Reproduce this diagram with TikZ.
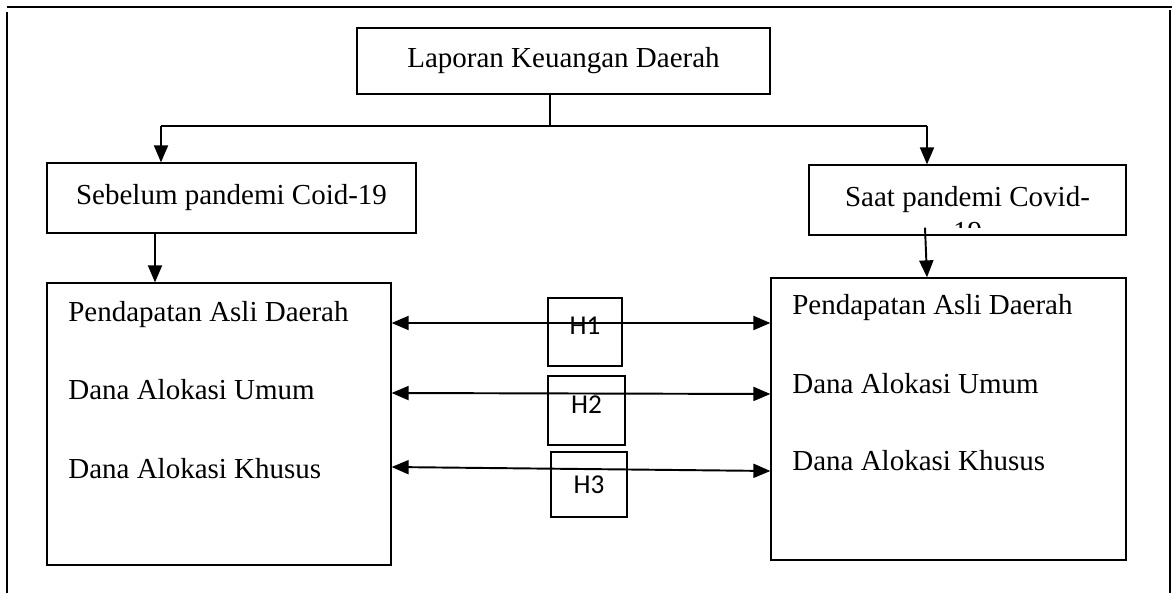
\documentclass[tikz,border=0pt]{standalone}
\usepackage{fontspec}
\setmainfont{Liberation Serif}
\newfontfamily\hfont{Carlito}
\usetikzlibrary{arrows.meta,calc}
\tikzset{
  frame/.style={line width=1.2pt},                  % page rule
  box/.style={draw=black,line width=0.7pt,inner sep=0pt,font=\fontsize{16.5}{19}\selectfont},
  hbox/.style={draw=black,line width=0.7pt,inner sep=0pt,font=\hfont\fontsize{15.5}{17}\selectfont},
  item/.style={inner sep=0pt,anchor=base west,font=\fontsize{16.5}{19}\selectfont},
  link/.style={line width=0.6pt},
  branch/.style={line width=0.9pt},
  flow/.style={-{Triangle[length=3.4mm,width=2.8mm]},line width=1.1pt},
  rel/.style={{Triangle[length=3.4mm,width=2.8mm]}-{Triangle[length=3.4mm,width=2.8mm]},line width=1.1pt},
}

\begin{document}
\begin{tikzpicture}
  \useasboundingbox (0,0) rectangle (23.44,11.86);
  % page frame
  \draw[frame] (0.14,11.72) -- (23.44,11.72);
  \draw[frame] (0.14,11.62) -- (0.14,0);
  \draw[frame] (23.40,11.66) -- (23.40,0);

  % top level
  \node[box,minimum width=8.26cm,minimum height=1.32cm] (lkd) at (11.27,10.64) {Laporan Keuangan Daerah};
  \node[box,minimum width=7.38cm,minimum height=1.40cm] (pre) at (4.63,7.90) {Sebelum pandemi Coid-19};
  \node[box,minimum width=6.34cm,minimum height=1.40cm] (dur) at (19.35,7.86) {Saat pandemi Covid-};
  \begin{scope}
    \clip (16.2,7.30) rectangle (22.5,8.5);
    \node[item,anchor=base] (dur19) at (19.35,7.02) {19};
  \end{scope}

  % branch
  \coordinate (stem) at (11.0,9.34);
  \coordinate (bl) at (3.22,9.34);
  \coordinate (br) at (18.54,9.34);
  \draw[link] (stem |- lkd.south) -- (stem);
  \draw[branch] (bl) -- (br);
  \draw[flow] (bl) -- (bl |- pre.north);
  \draw[flow] (br) -- (br |- dur.north);

  % variable boxes
  \node[box,minimum width=6.88cm,minimum height=5.64cm] (lbox) at (4.38,3.38) {};
  \node[box,minimum width=7.10cm,minimum height=5.64cm] (rbox) at (18.97,3.48) {};
  \node[item] (lpad) at (1.36,5.42) {Pendapatan Asli Daerah};
  \node[item] (ldau) at (1.36,3.86) {Dana Alokasi Umum};
  \node[item] (ldak) at (1.36,2.30) {Dana Alokasi Khusus};
  \node[item] (rpad) at (15.84,5.56) {Pendapatan Asli Daerah};
  \node[item] (rdau) at (15.84,4.00) {Dana Alokasi Umum};
  \node[item] (rdak) at (15.84,2.46) {Dana Alokasi Khusus};
  \draw[flow] ([xshift=-1.53cm]pre.south) -- ([xshift=-1.28cm]lbox.north);
  \draw[flow] ([xshift=-0.85cm,yshift=0.16cm]dur.south) -- ([xshift=-0.43cm]rbox.north);

  % hypotheses
  \node[hbox,minimum width=1.48cm,minimum height=1.36cm,text depth=0.25cm] (h1) at (11.70,5.22) {H1};
  \node[hbox,minimum width=1.54cm,minimum height=1.38cm,text depth=0.25cm] (h2) at (11.73,3.65) {H2};
  \node[hbox,minimum width=1.52cm,minimum height=1.30cm] (h3) at (11.78,2.17) {H3};
  \draw[rel] (lbox.east |- 0,5.40) -- (rbox.west |- 0,5.40);
  \draw[rel] (lbox.east |- 0,4.00) -- (rbox.west |- 0,3.98);
  \draw[rel] (lbox.east |- 0,2.52) -- (rbox.west |- 0,2.44);
\end{tikzpicture}
\end{document}
